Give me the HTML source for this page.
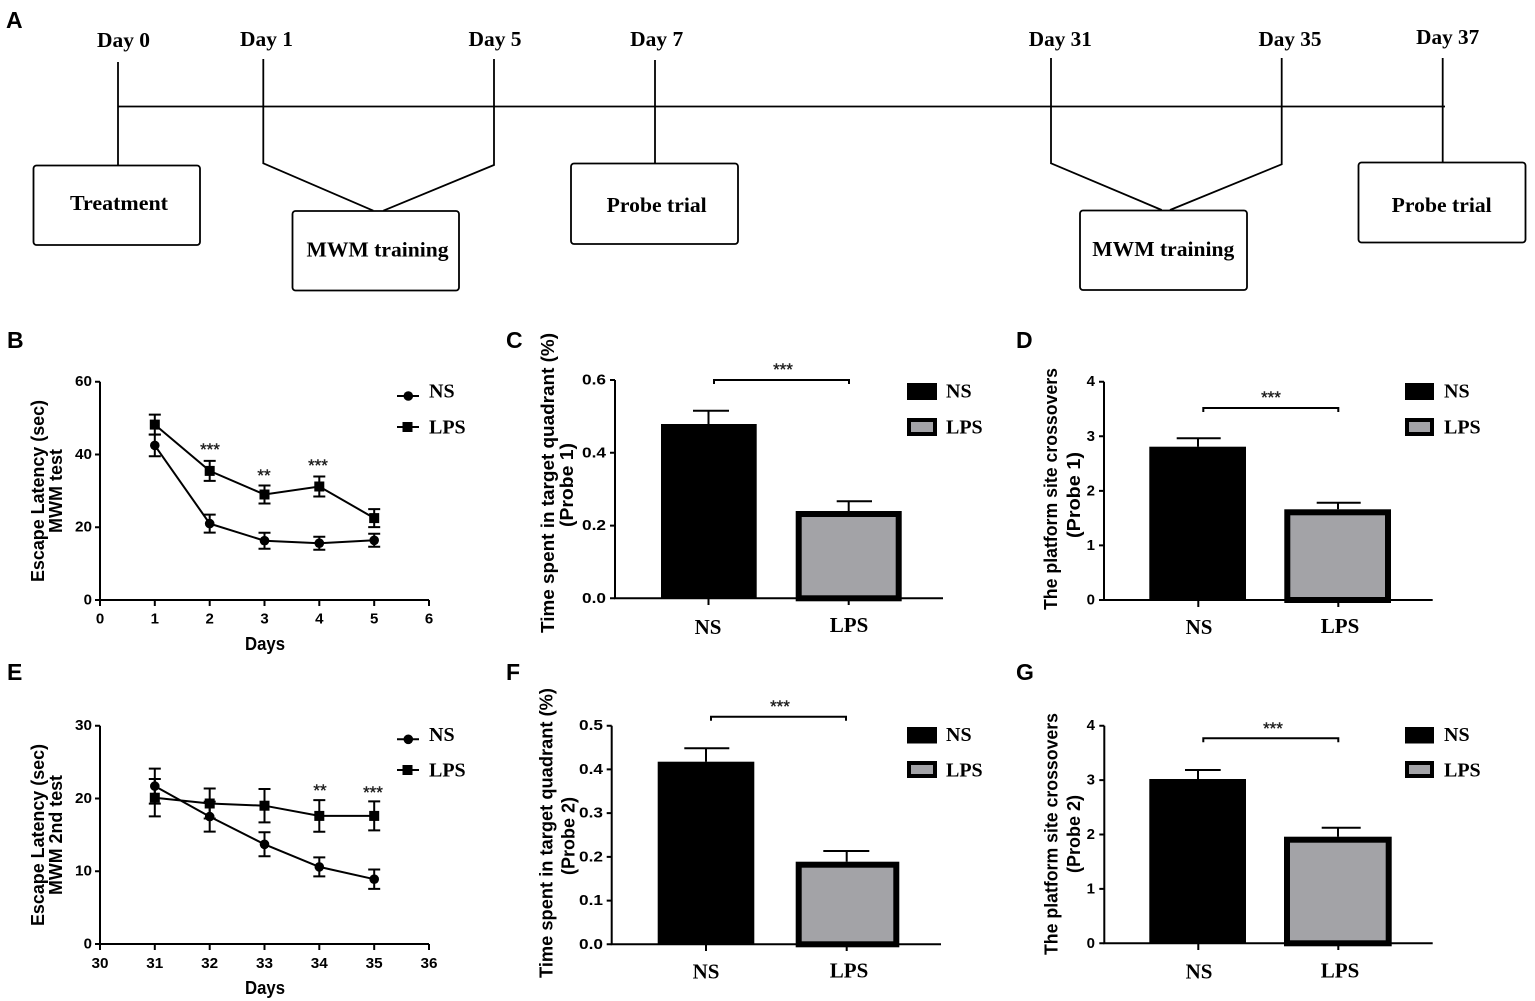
<!DOCTYPE html>
<html><head><meta charset="utf-8"><style>
html,body{margin:0;padding:0;background:#fff;}
svg{display:block;}
.tl{font-family:"Liberation Serif",serif;font-weight:bold;font-size:21px;fill:#000;}
.pl{font-family:"Liberation Sans",sans-serif;font-weight:bold;font-size:23px;fill:#000;}
.tk{font-family:"Liberation Sans",sans-serif;font-weight:bold;font-size:15px;fill:#000;}
.yl{font-family:"Liberation Sans",sans-serif;font-weight:bold;font-size:18px;fill:#000;}
.st{font-family:"Liberation Sans",sans-serif;font-size:17px;fill:#222;stroke:#222;stroke-width:0.4;}
.lg{font-family:"Liberation Serif",serif;font-weight:bold;font-size:20px;fill:#000;}
.xl{font-family:"Liberation Serif",serif;font-weight:bold;font-size:21px;fill:#000;}
</style></head><body>
<svg width="1535" height="1001" viewBox="0 0 1535 1001" xmlns="http://www.w3.org/2000/svg">
<rect width="1535" height="1001" fill="#fff"/>

<!-- ===== Panel A timeline ===== -->
<text class="pl" x="6" y="28">A</text>
<g stroke="#000" stroke-width="1.8" fill="none">
  <line x1="118" y1="106.5" x2="1445" y2="106.5"/>
  <line x1="118" y1="62" x2="118" y2="165"/>
  <polyline points="263.3,59 263.3,163.3 373.3,210.7"/>
  <polyline points="494,59 494,165 383.3,210.7"/>
  <line x1="655" y1="60" x2="655" y2="163.3"/>
  <polyline points="1051,58 1051,163.3 1161.7,210"/>
  <polyline points="1281.7,58 1281.7,164.3 1170,210"/>
  <line x1="1442.7" y1="58" x2="1442.7" y2="162.3"/>
  <rect x="33.5" y="165.5" width="166.5" height="79.5" rx="3"/>
  <rect x="292.5" y="211" width="166.5" height="79.5" rx="3"/>
  <rect x="571" y="163.5" width="167" height="80.5" rx="3"/>
  <rect x="1080" y="210.5" width="167" height="79.5" rx="3"/>
  <rect x="1358.5" y="162.5" width="167" height="80" rx="3"/>
</g>
<g class="tl" text-anchor="middle" dominant-baseline="central">
  <text x="123.5" y="40" textLength="53" lengthAdjust="spacingAndGlyphs">Day 0</text>
  <text x="266.5" y="39" textLength="53" lengthAdjust="spacingAndGlyphs">Day 1</text>
  <text x="495" y="39" textLength="53" lengthAdjust="spacingAndGlyphs">Day 5</text>
  <text x="656.7" y="39" textLength="53" lengthAdjust="spacingAndGlyphs">Day 7</text>
  <text x="1060.3" y="39" textLength="63" lengthAdjust="spacingAndGlyphs">Day 31</text>
  <text x="1290" y="39" textLength="63" lengthAdjust="spacingAndGlyphs">Day 35</text>
  <text x="1447.7" y="37" textLength="63" lengthAdjust="spacingAndGlyphs">Day 37</text>
  <text x="119" y="203" textLength="98" lengthAdjust="spacingAndGlyphs">Treatment</text>
  <text x="377.5" y="249.5" textLength="142" lengthAdjust="spacingAndGlyphs">MWM training</text>
  <text x="656.7" y="205" textLength="100" lengthAdjust="spacingAndGlyphs">Probe trial</text>
  <text x="1163.3" y="249" textLength="142" lengthAdjust="spacingAndGlyphs">MWM training</text>
  <text x="1441.7" y="205" textLength="100" lengthAdjust="spacingAndGlyphs">Probe trial</text>
</g>

<!-- ===== Panel B ===== -->
<text class="pl" x="7" y="348">B</text>
<g stroke="#000" stroke-width="2" fill="none">
  <path d="M100,381.7 V600 H429"/>
  <path d="M95,381.7 H100 M95,454.5 H100 M95,527.2 H100 M95,600 H100"/>
  <path d="M100,600 V606 M154.8,600 V606 M209.7,600 V606 M264.5,600 V606 M319.3,600 V606 M374.2,600 V606 M429,600 V606"/>
  <polyline points="154.8,445.4 209.7,523.6 264.5,540.7 319.3,543.2 374.2,540.3"/>
  <polyline points="154.8,424.6 209.7,470.9 264.5,494.5 319.3,486.5 374.2,518.1"/>
  <path d="M154.8,434.5V456.3M148.8,434.5H160.8M148.8,456.3H160.8
           M209.7,514.6V532.6M203.7,514.6H215.7M203.7,532.6H215.7
           M264.5,532.7V548.7M258.5,532.7H270.5M258.5,548.7H270.5
           M319.3,536.7V549.7M313.3,536.7H325.3M313.3,549.7H325.3
           M374.2,533.8V546.8M368.2,533.8H380.2M368.2,546.8H380.2"/>
  <path d="M154.8,414.6V434.6M148.8,414.6H160.8M148.8,434.6H160.8
           M209.7,460.9V480.9M203.7,460.9H215.7M203.7,480.9H215.7
           M264.5,485.5V503.5M258.5,485.5H270.5M258.5,503.5H270.5
           M319.3,476.5V496.5M313.3,476.5H325.3M313.3,496.5H325.3
           M374.2,509.1V527.1M368.2,509.1H380.2M368.2,527.1H380.2"/>
  <line x1="397" y1="396" x2="419" y2="396"/>
  <line x1="397" y1="427" x2="419" y2="427"/>
</g>
<g fill="#000">
  <circle cx="154.8" cy="445.4" r="4.8"/><circle cx="209.7" cy="523.6" r="4.8"/><circle cx="264.5" cy="540.7" r="4.8"/><circle cx="319.3" cy="543.2" r="4.8"/><circle cx="374.2" cy="540.3" r="4.8"/>
  <rect x="149.8" y="419.6" width="10" height="10"/><rect x="204.7" y="465.9" width="10" height="10"/><rect x="259.5" y="489.5" width="10" height="10"/><rect x="314.3" y="481.5" width="10" height="10"/><rect x="369.2" y="513.1" width="10" height="10"/>
  <circle cx="408.3" cy="396" r="4.8"/>
  <rect x="402.5" y="422" width="10" height="10"/>
</g>
<g class="tk" text-anchor="end" dominant-baseline="central">
  <text x="92" y="381.7" textLength="17" lengthAdjust="spacingAndGlyphs">60</text><text x="92" y="454.5" textLength="17" lengthAdjust="spacingAndGlyphs">40</text><text x="92" y="527.2" textLength="17" lengthAdjust="spacingAndGlyphs">20</text><text x="92" y="600">0</text>
</g>
<g class="tk" text-anchor="middle" dominant-baseline="central">
  <text x="100" y="619">0</text><text x="154.8" y="619">1</text><text x="209.7" y="619">2</text><text x="264.5" y="619">3</text><text x="319.3" y="619">4</text><text x="374.2" y="619">5</text><text x="429" y="619">6</text>
</g>
<text class="yl" x="265" y="644" text-anchor="middle" dominant-baseline="central" textLength="40" lengthAdjust="spacingAndGlyphs">Days</text>
<text class="yl" transform="translate(38,491) rotate(-90)" text-anchor="middle" dominant-baseline="central" textLength="182" lengthAdjust="spacingAndGlyphs">Escape Latency (sec)</text>
<text class="yl" transform="translate(56,491) rotate(-90)" text-anchor="middle" dominant-baseline="central" textLength="84" lengthAdjust="spacingAndGlyphs">MWM test</text>
<g class="st" text-anchor="middle">
  <text x="210" y="455">***</text><text x="264" y="481">**</text><text x="318" y="471">***</text>
</g>
<g class="lg" dominant-baseline="central">
  <text x="429" y="391.5">NS</text><text x="429" y="427.5">LPS</text>
</g>

<!-- ===== Panel C ===== -->
<text class="pl" x="506" y="348">C</text>
<g stroke="#000" stroke-width="2" fill="none">
  <path d="M615,380 V598.3 H943"/>
  <path d="M610,380 H615 M610,452.8 H615 M610,525.6 H615 M610,598.3 H615"/>
  <path d="M708.5,598.3 V605 M848.7,598.3 V605"/>
  <path d="M708.5,424 V410.7 M693,410.7 H729"/>
  <path d="M848.7,511 V501.3 M836.7,501.3 H872"/>
  <path d="M714,384 V380 H849 V384"/>
</g>
<rect x="661" y="424" width="95.7" height="174.3" fill="#000"/>
<rect x="798.7" y="514" width="100" height="84.3" fill="#a3a3a7" stroke="#000" stroke-width="6"/>
<rect x="907" y="383" width="30" height="17" fill="#000"/>
<rect x="909" y="420" width="26" height="14" fill="#a3a3a7" stroke="#000" stroke-width="4"/>
<g class="tk" text-anchor="end" dominant-baseline="central">
  <text x="606" y="380" textLength="24" lengthAdjust="spacingAndGlyphs">0.6</text><text x="606" y="452.8" textLength="24" lengthAdjust="spacingAndGlyphs">0.4</text><text x="606" y="525.6" textLength="24" lengthAdjust="spacingAndGlyphs">0.2</text><text x="606" y="598.3" textLength="24" lengthAdjust="spacingAndGlyphs">0.0</text>
</g>
<text class="st" x="783" y="375" text-anchor="middle">***</text>
<g class="xl" text-anchor="middle" dominant-baseline="central">
  <text x="708" y="627">NS</text><text x="849" y="625">LPS</text>
</g>
<g class="lg" dominant-baseline="central">
  <text x="946" y="391.5">NS</text><text x="946" y="427.5">LPS</text>
</g>
<text class="yl" transform="translate(548,483) rotate(-90)" text-anchor="middle" dominant-baseline="central" textLength="300" lengthAdjust="spacingAndGlyphs">Time spent in target quadrant (%)</text>
<text class="yl" transform="translate(567,485) rotate(-90)" text-anchor="middle" dominant-baseline="central" textLength="84" lengthAdjust="spacingAndGlyphs">(Probe 1)</text>

<!-- ===== Panel D ===== -->
<text class="pl" x="1016" y="348">D</text>
<g stroke="#000" stroke-width="2" fill="none">
  <path d="M1104,381.7 V600 H1432.7"/>
  <path d="M1099,381.7 H1104 M1099,436.3 H1104 M1099,490.9 H1104 M1099,545.4 H1104 M1099,600 H1104"/>
  <path d="M1198.3,600 V607 M1338.3,600 V607"/>
  <path d="M1198,446.7 V438.3 M1176.7,438.3 H1220.7"/>
  <path d="M1338,509.3 V502.7 M1316.7,502.7 H1360.7"/>
  <path d="M1203.3,412 V408 H1338.3 V412"/>
</g>
<rect x="1149.3" y="446.7" width="96.7" height="153.3" fill="#000"/>
<rect x="1287.3" y="512.3" width="100.7" height="87.7" fill="#a3a3a7" stroke="#000" stroke-width="6"/>
<rect x="1405" y="383" width="29" height="17" fill="#000"/>
<rect x="1407" y="420" width="25" height="14" fill="#a3a3a7" stroke="#000" stroke-width="4"/>
<g class="tk" text-anchor="end" dominant-baseline="central">
  <text x="1095" y="381.7">4</text><text x="1095" y="436.3">3</text><text x="1095" y="490.9">2</text><text x="1095" y="545.4">1</text><text x="1095" y="600">0</text>
</g>
<text class="st" x="1271" y="403" text-anchor="middle">***</text>
<g class="xl" text-anchor="middle" dominant-baseline="central">
  <text x="1199" y="627">NS</text><text x="1340" y="626">LPS</text>
</g>
<g class="lg" dominant-baseline="central">
  <text x="1444" y="391.5">NS</text><text x="1444" y="427.5">LPS</text>
</g>
<text class="yl" transform="translate(1051,489) rotate(-90)" text-anchor="middle" dominant-baseline="central" textLength="242" lengthAdjust="spacingAndGlyphs">The platform site crossovers</text>
<text class="yl" transform="translate(1074,495) rotate(-90)" text-anchor="middle" dominant-baseline="central" textLength="86" lengthAdjust="spacingAndGlyphs">(Probe 1)</text>

<!-- ===== Panel E ===== -->
<text class="pl" x="7" y="680">E</text>
<g stroke="#000" stroke-width="2" fill="none">
  <path d="M100,725.7 V944 H429"/>
  <path d="M95,725.7 H100 M95,798.5 H100 M95,871.2 H100 M95,944 H100"/>
  <path d="M100,944 V950 M154.8,944 V950 M209.7,944 V950 M264.5,944 V950 M319.3,944 V950 M374.2,944 V950 M429,944 V950"/>
  <polyline points="154.8,786.1 209.7,816.6 264.5,844.3 319.3,866.9 374.2,879.2"/>
  <polyline points="154.8,797.7 209.7,803.5 264.5,805.7 319.3,815.9 374.2,815.9"/>
  <path d="M154.8,768.6V803.6M148.8,768.6H160.8M148.8,803.6H160.8
           M209.7,801.6V831.6M203.7,801.6H215.7M203.7,831.6H215.7
           M264.5,832.3V856.3M258.5,832.3H270.5M258.5,856.3H270.5
           M319.3,857.4V876.4M313.3,857.4H325.3M313.3,876.4H325.3
           M374.2,869.5V888.9M368.2,869.5H380.2M368.2,888.9H380.2"/>
  <path d="M154.8,779V816.4M148.8,779H160.8M148.8,816.4H160.8
           M209.7,788.5V818.5M203.7,788.5H215.7M203.7,818.5H215.7
           M264.5,789V822.4M258.5,789H270.5M258.5,822.4H270.5
           M319.3,800.1V831.7M313.3,800.1H325.3M313.3,831.7H325.3
           M374.2,801.4V830.4M368.2,801.4H380.2M368.2,830.4H380.2"/>
  <line x1="397" y1="739.3" x2="419" y2="739.3"/>
  <line x1="397" y1="770" x2="419" y2="770"/>
</g>
<g fill="#000">
  <circle cx="154.8" cy="786.1" r="4.8"/><circle cx="209.7" cy="816.6" r="4.8"/><circle cx="264.5" cy="844.3" r="4.8"/><circle cx="319.3" cy="866.9" r="4.8"/><circle cx="374.2" cy="879.2" r="4.8"/>
  <rect x="149.8" y="792.7" width="10" height="10"/><rect x="204.7" y="798.5" width="10" height="10"/><rect x="259.5" y="800.7" width="10" height="10"/><rect x="314.3" y="810.9" width="10" height="10"/><rect x="369.2" y="810.9" width="10" height="10"/>
  <circle cx="408.3" cy="739.3" r="4.8"/>
  <rect x="402.5" y="765" width="10" height="10"/>
</g>
<g class="tk" text-anchor="end" dominant-baseline="central">
  <text x="92" y="725.7" textLength="17" lengthAdjust="spacingAndGlyphs">30</text><text x="92" y="798.5" textLength="17" lengthAdjust="spacingAndGlyphs">20</text><text x="92" y="871.2" textLength="17" lengthAdjust="spacingAndGlyphs">10</text><text x="92" y="944">0</text>
</g>
<g class="tk" text-anchor="middle" dominant-baseline="central">
  <text x="100" y="963.5" textLength="17" lengthAdjust="spacingAndGlyphs">30</text><text x="154.8" y="963.5" textLength="17" lengthAdjust="spacingAndGlyphs">31</text><text x="209.7" y="963.5" textLength="17" lengthAdjust="spacingAndGlyphs">32</text><text x="264.5" y="963.5" textLength="17" lengthAdjust="spacingAndGlyphs">33</text><text x="319.3" y="963.5" textLength="17" lengthAdjust="spacingAndGlyphs">34</text><text x="374.2" y="963.5" textLength="17" lengthAdjust="spacingAndGlyphs">35</text><text x="429" y="963.5" textLength="17" lengthAdjust="spacingAndGlyphs">36</text>
</g>
<text class="yl" x="265" y="988" text-anchor="middle" dominant-baseline="central" textLength="40" lengthAdjust="spacingAndGlyphs">Days</text>
<text class="yl" transform="translate(38,835) rotate(-90)" text-anchor="middle" dominant-baseline="central" textLength="182" lengthAdjust="spacingAndGlyphs">Escape Latency (sec)</text>
<text class="yl" transform="translate(56,835) rotate(-90)" text-anchor="middle" dominant-baseline="central" textLength="120" lengthAdjust="spacingAndGlyphs">MWM 2nd test</text>
<g class="st" text-anchor="middle">
  <text x="320" y="796">**</text><text x="373" y="798">***</text>
</g>
<g class="lg" dominant-baseline="central">
  <text x="429" y="735">NS</text><text x="429" y="770.5">LPS</text>
</g>

<!-- ===== Panel F ===== -->
<text class="pl" x="506" y="680">F</text>
<g stroke="#000" stroke-width="2" fill="none">
  <path d="M611.7,725.7 V944.3 H941"/>
  <path d="M606.7,725.7 H611.7 M606.7,769.4 H611.7 M606.7,813.1 H611.7 M606.7,856.9 H611.7 M606.7,900.6 H611.7 M606.7,944.3 H611.7"/>
  <path d="M706,944.3 V951 M846.7,944.3 V951"/>
  <path d="M706,761.7 V748.3 M684.3,748.3 H729.3"/>
  <path d="M846.7,861.7 V851 M823.3,851 H869.3"/>
  <path d="M711,720.7 V716.7 H846 V720.7"/>
</g>
<rect x="657.7" y="761.7" width="96.6" height="182.6" fill="#000"/>
<rect x="798.7" y="864.7" width="97.6" height="79.6" fill="#a3a3a7" stroke="#000" stroke-width="6"/>
<rect x="907" y="727" width="30" height="16.5" fill="#000"/>
<rect x="909" y="763" width="26" height="13" fill="#a3a3a7" stroke="#000" stroke-width="4"/>
<g class="tk" text-anchor="end" dominant-baseline="central">
  <text x="603" y="725.7" textLength="24" lengthAdjust="spacingAndGlyphs">0.5</text><text x="603" y="769.4" textLength="24" lengthAdjust="spacingAndGlyphs">0.4</text><text x="603" y="813.1" textLength="24" lengthAdjust="spacingAndGlyphs">0.3</text><text x="603" y="856.9" textLength="24" lengthAdjust="spacingAndGlyphs">0.2</text><text x="603" y="900.6" textLength="24" lengthAdjust="spacingAndGlyphs">0.1</text><text x="603" y="944.3" textLength="24" lengthAdjust="spacingAndGlyphs">0.0</text>
</g>
<text class="st" x="780" y="712" text-anchor="middle">***</text>
<g class="xl" text-anchor="middle" dominant-baseline="central">
  <text x="706" y="971.5">NS</text><text x="849" y="970.5">LPS</text>
</g>
<g class="lg" dominant-baseline="central">
  <text x="946" y="735">NS</text><text x="946" y="770.5">LPS</text>
</g>
<text class="yl" transform="translate(546.7,833) rotate(-90)" text-anchor="middle" dominant-baseline="central" textLength="290" lengthAdjust="spacingAndGlyphs">Time spent in target quadrant (%)</text>
<text class="yl" transform="translate(568.3,836) rotate(-90)" text-anchor="middle" dominant-baseline="central" textLength="78" lengthAdjust="spacingAndGlyphs">(Probe 2)</text>

<!-- ===== Panel G ===== -->
<text class="pl" x="1016" y="680">G</text>
<g stroke="#000" stroke-width="2" fill="none">
  <path d="M1104.3,725.7 V943.3 H1432.7"/>
  <path d="M1099.3,725.7 H1104.3 M1099.3,780.1 H1104.3 M1099.3,834.5 H1104.3 M1099.3,888.9 H1104.3 M1099.3,943.3 H1104.3"/>
  <path d="M1198.3,943.3 V950 M1338.3,943.3 V950"/>
  <path d="M1198,779 V770 M1185,770 H1220.7"/>
  <path d="M1338,836.7 V827.7 M1321.7,827.7 H1360.7"/>
  <path d="M1203.3,742.3 V738.3 H1338.3 V742.3"/>
</g>
<rect x="1149.3" y="779" width="96.7" height="164.3" fill="#000"/>
<rect x="1287" y="839.7" width="101.7" height="103.6" fill="#a3a3a7" stroke="#000" stroke-width="6"/>
<rect x="1405" y="727" width="29" height="16.5" fill="#000"/>
<rect x="1407" y="763" width="25" height="13" fill="#a3a3a7" stroke="#000" stroke-width="4"/>
<g class="tk" text-anchor="end" dominant-baseline="central">
  <text x="1095" y="725.7">4</text><text x="1095" y="780.1">3</text><text x="1095" y="834.5">2</text><text x="1095" y="888.9">1</text><text x="1095" y="943.3">0</text>
</g>
<text class="st" x="1273" y="734" text-anchor="middle">***</text>
<g class="xl" text-anchor="middle" dominant-baseline="central">
  <text x="1199" y="971.5">NS</text><text x="1340" y="970.5">LPS</text>
</g>
<g class="lg" dominant-baseline="central">
  <text x="1444" y="735">NS</text><text x="1444" y="770.5">LPS</text>
</g>
<text class="yl" transform="translate(1051.7,834) rotate(-90)" text-anchor="middle" dominant-baseline="central" textLength="242" lengthAdjust="spacingAndGlyphs">The platform site crossovers</text>
<text class="yl" transform="translate(1074,834) rotate(-90)" text-anchor="middle" dominant-baseline="central" textLength="78" lengthAdjust="spacingAndGlyphs">(Probe 2)</text>
</svg>
</body></html>
